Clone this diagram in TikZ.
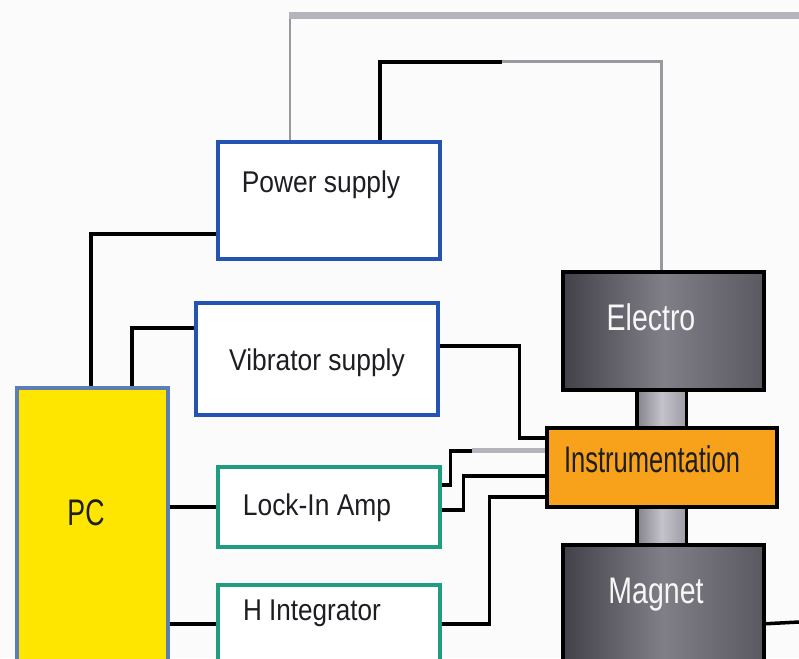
\documentclass[tikz,border=0pt]{standalone}
\usepackage{fontspec}
\usepackage{graphicx}
\setmainfont{Liberation Sans}
\usetikzlibrary{calc}
\definecolor{bluebd}{HTML}{2354B2}
\definecolor{tealbd}{HTML}{1E9E7E}
\definecolor{pcfill}{HTML}{FFE600}
\definecolor{pcbd}{HTML}{5D7DB5}
\definecolor{insfill}{HTML}{F8A21C}
\definecolor{txt}{HTML}{1E1E22}
\definecolor{gtop}{HTML}{B4B4BC}
\definecolor{gmid}{HTML}{98989F}
\definecolor{bg}{HTML}{FBFBFB}
\definecolor{dkL}{HTML}{424048}
\definecolor{dkM}{HTML}{807E86}
\definecolor{dkR}{HTML}{5A5860}
\definecolor{clL}{HTML}{85838B}
\definecolor{clM}{HTML}{C4C2CA}
\definecolor{clR}{HTML}{9E9CA4}
\newcommand{\lab}[2]{\scalebox{#1}[1]{#2}}
\tikzset{
  box/.style={draw, line width=3.5pt, rectangle, inner sep=0pt, anchor=north west},
  bluebox/.style={box, draw=bluebd, fill=white},
  tealbox/.style={box, draw=tealbd, fill=white},
  pcbox/.style={box, draw=pcbd, fill=pcfill},
  darkbox/.style={box, draw=black, left color=dkL, right color=dkR, middle color=dkM},
  insbox/.style={box, draw=black, fill=insfill},
  colbox/.style={rectangle, inner sep=0pt, anchor=north west, left color=clL, right color=clR, middle color=clM},
  blk/.style={draw=black, line width=3.5pt},
  lbl/.style={text=txt, inner sep=0pt, anchor=base, font=\fontsize{30}{32}\selectfont},
  biglbl/.style={inner sep=0pt, anchor=base, font=\fontsize{37}{40}\selectfont},
}
\begin{document}
\begin{tikzpicture}[x=1pt,y=-1pt]
\fill[bg] (0,0) rectangle (799,658);
\useasboundingbox (0,0) rectangle (799,658);
\clip (0,0) rectangle (799,658);
% boxes
\node[bluebox, minimum width=222pt, minimum height=117pt] (pw) at (216,140) {};
\node[bluebox, minimum width=242pt, minimum height=112pt] (vib) at (194,301) {};
\node[tealbox, minimum width=222pt, minimum height=80pt] (lock) at (216,465) {};
\node[tealbox, minimum width=222pt, minimum height=97pt] (hint) at (216,583) {};
\node[pcbox, minimum width=151pt, minimum height=314pt] (pc) at (15,386) {};
\node[colbox, minimum width=49pt, minimum height=40pt] (col1) at (637,387) {};
\node[colbox, minimum width=49pt, minimum height=40pt] (col2) at (637,504) {};
\draw[blk] (col1.north west) -- (col1.south west) (col1.north east) -- (col1.south east);
\draw[blk] (col2.north west) -- (col2.south west) (col2.north east) -- (col2.south east);
\node[darkbox, minimum width=201pt, minimum height=118pt] (el) at (561,270) {};
\node[insbox, minimum width=230pt, minimum height=79pt] (ins) at (545,426) {};
\node[darkbox, minimum width=201pt, minimum height=157pt] (mag) at (561,543) {};
% labels
\node[lbl] (pwT) at (321,192) {\lab{0.88}{Power supply}};
\node[lbl] (vibT) at (317,370) {\lab{0.88}{Vibrator supply}};
\node[lbl] (lockT) at (317,515) {\lab{0.88}{Lock-In Amp}};
\node[lbl] (hintT) at (312,620) {\lab{0.87}{H Integrator}};
\node[biglbl, text=txt] (pcT) at (86,525) {\lab{0.72}{PC}};
\node[biglbl, text=white!94!gray] (elT) at (651,330) {\lab{0.77}{Electro}};
\node[biglbl, text=txt] (insT) at (652,472) {\lab{0.69}{Instrumentation}};
\node[biglbl, text=white!94!gray] (magT) at (656,603) {\lab{0.77}{Magnet}};
% connectors
\coordinate (psA) at ([xshift=-39pt]pw.north);
\coordinate (tr) at (799,16);
\draw[draw=gmid, line width=2pt] (psA) -- (psA |- tr);
\draw[draw=gtop, line width=7pt] ([xshift=-1pt]psA |- tr) -- (tr);
\coordinate (psB) at ([xshift=51pt]pw.north);
\coordinate (elTop) at ([xshift=-1.5pt]el.north);
\coordinate (ptop) at ($(psB)+(0,-78)$);
\coordinate (pmid) at ($(ptop)+(122,0)$);
\draw[draw=gmid, line width=3pt] (pmid) -| (elTop);
\draw[blk] (psB) -- (ptop) -- (pmid);
\draw[blk] ([xshift=-1.5pt]pc.north) |- ([yshift=-33.5pt]pw.west);
\draw[blk] ([xshift=39.5pt]pc.north) |- ([yshift=31pt]vib.west);
\draw[blk] ([yshift=13pt]vib.east) -- ++(80,0) |- ([yshift=29.5pt]ins.west);
\coordinate (iw1) at ([yshift=16.5pt]ins.west);
\coordinate (iw1g) at ($(iw1)+(-73,0)$);
\draw[draw=gtop, line width=5pt] (iw1g) -- (iw1);
\draw[blk] ([yshift=22pt]lock.east) -- ++(9,0) |- (iw1g);
\draw[blk] ([yshift=-3pt]lock.east) -- ++(22,0) |- ([yshift=-8.5pt]ins.west);
\draw[blk] ([yshift=9.5pt]hint.east) -- ++(48,0) |- ([yshift=-29.5pt]ins.west);
\draw[blk] (pc.east |- lock.west) -- (lock.west);
\draw[blk] (pc.east |- hint.west) ++(0,-9.5) -- ([yshift=9.5pt]hint.west);
\coordinate (rEdge) at (799,622);
\draw[blk] ([yshift=-0.5pt]mag.east) -- (rEdge);
\end{tikzpicture}
\end{document}
